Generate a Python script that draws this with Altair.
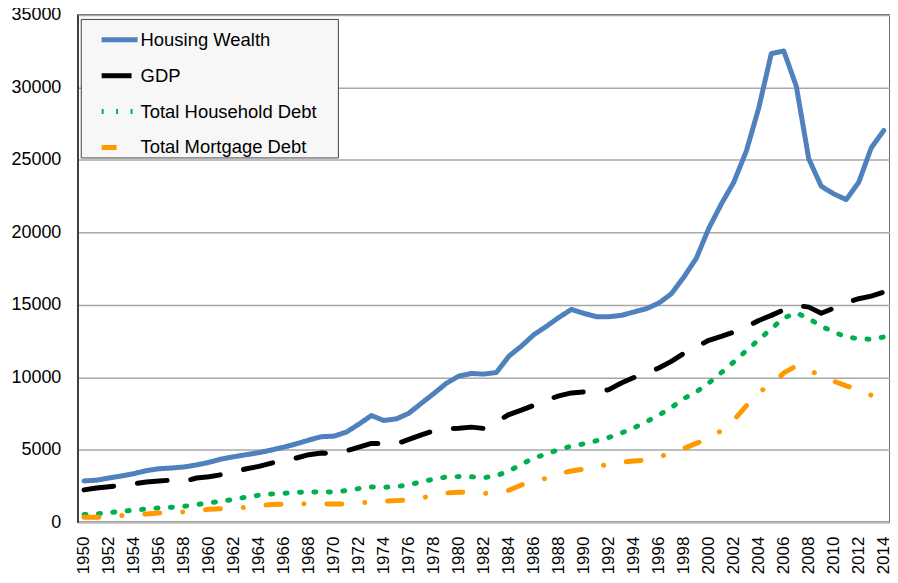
import altair as alt
import pandas as pd

years = list(range(1950, 2015))

housing_wealth = [
    2850, 2900, 3050, 3190, 3350, 3560, 3690, 3740, 3810, 3950,
    4130, 4360, 4520, 4660, 4800, 4980, 5180, 5410, 5670, 5900,
    5940, 6220, 6770, 7360, 7020, 7130, 7520, 8210, 8880, 9590,
    10080, 10260, 10220, 10330, 11450, 12150, 12940, 13510, 14130, 14680,
    14410, 14180, 14180, 14270, 14500, 14730, 15120, 15760, 16910, 18210,
    20280, 21950, 23460, 25600, 28590, 32330, 32510, 30090, 25070, 23180,
    22650, 22260, 23460, 25830, 27030,
]
gdp = [
    2230, 2360, 2450, 2550, 2650, 2780, 2840, 2910, 2820, 3050,
    3140, 3280, 3460, 3690, 3850, 4080, 4270, 4430, 4660, 4770,
    4750, 4930, 5180, 5440, 5410, 5410, 5710, 6030, 6310, 6450,
    6490, 6560, 6470, 6930, 7430, 7730, 8070, 8420, 8720, 8920,
    8990, 8950, 9150, 9610, 9980, 10280, 10640, 11100, 11650, 12090,
    12550, 12820, 13120, 13470, 13920, 14270, 14660, 14960, 14840, 14420,
    14770, 15140, 15420, 15600, 15880,
]
household_debt = [
    530, 570, 660, 760, 830, 920, 990, 1030, 1100, 1220,
    1330, 1450, 1580, 1740, 1860, 1950, 2000, 2060, 2090, 2090,
    2090, 2180, 2320, 2430, 2410, 2450, 2590, 2780, 2980, 3120,
    3150, 3140, 3070, 3210, 3530, 3990, 4430, 4700, 5020, 5250,
    5410, 5620, 5850, 6150, 6510, 6930, 7390, 7910, 8530, 8990,
    9610, 10320, 11060, 11840, 12590, 13350, 14090, 14450, 14040, 13530,
    13120, 12780, 12660, 12620, 12780,
]
mortgage_debt = [
    340, 340, 390, 460, 530, 570, 640, 690, 710, 800,
    890, 940, 1030, 1000, 1150, 1220, 1240, 1280, 1260, 1260,
    1260, 1260, 1330, 1400, 1450, 1490, 1540, 1670, 1860, 2020,
    2060, 2060, 1970, 2110, 2200, 2570, 2840, 3030, 3350, 3530,
    3670, 3900, 3950, 4130, 4220, 4290, 4520, 4750, 5090, 5440,
    5780, 6310, 7040, 8030, 8990, 9450, 10300, 10780, 10550, 10020,
    9730, 9410, 9130, 8760, None,
]

series_names = ["Housing Wealth", "GDP", "Total Household Debt", "Total Mortgage Debt"]
series_values = [housing_wealth, gdp, household_debt, mortgage_debt]
series_colors = ["#4f81bd", "#000000", "#00b050", "#ff9900"]
series_dashes = [[1, 0], [30, 24], [2, 12.5], [15, 23, 0.1, 23]]
year_labels = [y for y in years if y % 2 == 0]
y_ticks = [0, 5000, 10000, 15000, 20000, 25000, 30000, 35000]

rows = []
for name, vals in zip(series_names, series_values):
    for yr, v in zip(years, vals):
        if v is not None:
            rows.append({"year": yr, "value": v, "series": name})
df = pd.DataFrame(rows)

legend_spec = dict(title="\u00a0", titleOrient="right", titlePadding=21, titleFontSize=2)

chart = (
    alt.Chart(df)
    .mark_line(strokeWidth=5, strokeCap="round", strokeJoin="round")
    .encode(
        x=alt.X(
            "year:O",
            scale=alt.Scale(type="point", padding=0.5),
            axis=alt.Axis(
                values=year_labels,
                labelAngle=-90,
                title=None,
                ticks=False,
                labelFontSize=17,
                labelPadding=14,
                domainColor="#bfbfbf",
                domainWidth=1.5,
                grid=False,
            ),
        ),
        y=alt.Y(
            "value:Q",
            scale=alt.Scale(domain=[0, 35000], nice=False),
            axis=alt.Axis(
                values=y_ticks,
                format="d",
                title=None,
                ticks=False,
                labelFontSize=18,
                labelPadding=17,
                domainColor="#404040",
                domainWidth=1.5,
                gridColor="#a8a8a8",
                gridWidth=1.4,
            ),
        ),
        color=alt.Color(
            "series:N",
            scale=alt.Scale(domain=series_names, range=series_colors),
            legend=alt.Legend(**legend_spec),
        ),
        strokeDash=alt.StrokeDash(
            "series:N",
            scale=alt.Scale(domain=series_names, range=series_dashes),
            legend=alt.Legend(**legend_spec),
        ),
    )
    .properties(
        width=815,
        height=509,
        autosize=alt.AutoSizeParams(type="none"),
        padding={"left": 70, "top": 6, "right": 0, "bottom": 52},
    )
    .configure_view(stroke="#404040", strokeWidth=1.5)
    .configure_axis(labelFont="Liberation Sans", labelColor="#000000")
    .configure_legend(
        orient="none",
        legendX=3,
        legendY=4,
        fillColor="#f7f7f7",
        strokeColor="#404040",
        padding=0,
        symbolType="stroke",
        symbolSize=1300,
        symbolStrokeWidth=5,
        symbolOffset=18,
        labelFont="Liberation Sans",
        labelFontSize=18.5,
        labelColor="#000000",
        labelOffset=0,
        rowPadding=5,
        labelLimit=400,
    )
)

chart.save("out.html", embed_options={"renderer": "svg", "actions": False})
